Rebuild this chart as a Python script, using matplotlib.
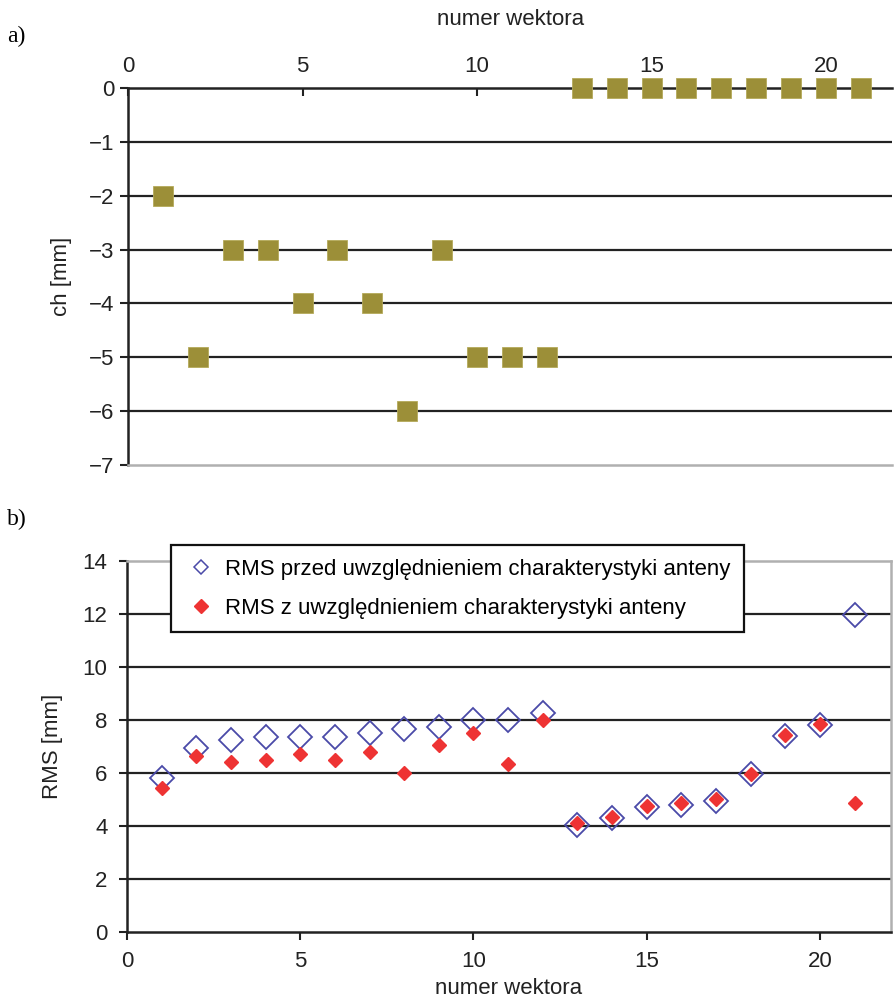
import matplotlib
matplotlib.use("Agg")
import matplotlib.pyplot as plt
from matplotlib.lines import Line2D

plt.rcParams['font.family'] = ['Liberation Sans', 'DejaVu Sans']

# data
wektor = list(range(1, 22))
ch = [-2, -5, -3, -3, -4, -3, -4, -6, -3, -5, -5, -5,
      0, 0, 0, 0, 0, 0, 0, 0, 0]
rms_przed = [5.8, 6.95, 7.25, 7.35, 7.35, 7.35, 7.5, 7.65, 7.75, 8.0, 8.0, 8.25,
             4.05, 4.3, 4.7, 4.8, 4.95, 5.95, 7.4, 7.8, 11.95]
rms_z = [5.45, 6.65, 6.4, 6.5, 6.7, 6.5, 6.8, 6.0, 7.05, 7.5, 6.35, 8.0,
         4.1, 4.35, 4.75, 4.85, 5.0, 5.95, 7.45, 7.85, 4.85]

fig = plt.figure(figsize=(8.96, 10.06), dpi=100)
fs = 16

# ---- a) ----
ax1 = fig.add_axes([0.1429, 0.5378, 0.853, 0.3747])
ax1.set_xlim(0, 21.9)
ax1.set_ylim(-7, 0)
for y in range(-6, 0):
    ax1.axhline(y, color='#222222', lw=1.6, zorder=1)
ax1.plot(wektor, ch, 's', color='#9c8f38', markersize=14.5,
         markeredgecolor='#b5aa5a', markeredgewidth=0.6, zorder=3, clip_on=False)
ax1.xaxis.tick_top()
ax1.xaxis.set_label_position('top')
ax1.set_xticks([0, 5, 10, 15, 20])
ax1.set_yticks(range(-7, 1))
ax1.set_yticklabels(['\u2212%d' % -v if v < 0 else '0' for v in range(-7, 1)])
ax1.tick_params(axis='x', direction='in', length=6, width=1.5, labelsize=fs, pad=8, colors='#222222')
ax1.tick_params(axis='y', direction='out', length=6, width=1.5, labelsize=fs, pad=4, colors='#222222')
ax1.spines['right'].set_visible(False)
ax1.spines['top'].set_linewidth(1.8)
ax1.spines['top'].set_color('#222222')
ax1.spines['left'].set_linewidth(1.8)
ax1.spines['left'].set_color('#222222')
ax1.spines['bottom'].set_color('#b0b0b0')
ax1.spines['bottom'].set_linewidth(1.8)
ax1.set_xlabel('numer wektora', fontsize=fs, labelpad=22, color='#222222')
ax1.set_ylabel('ch [mm]', fontsize=fs, labelpad=12, color='#222222')

# ---- b) ----
ax2 = fig.add_axes([0.1417, 0.0736, 0.8527, 0.3687])
ax2.set_xlim(0, 22.05)
ax2.set_ylim(0, 14)
for y in range(2, 14, 2):
    ax2.axhline(y, color='#222222', lw=1.6, zorder=1)
ax2.plot(wektor, rms_przed, 'D', markerfacecolor='none', markeredgecolor='#4a4aa8',
         markeredgewidth=1.3, markersize=12.5, zorder=3,
         label='RMS przed uwzględnieniem charakterystyki anteny')
ax2.plot(wektor, rms_z, 'D', color='#ee3333', markersize=7.5, zorder=4,
         label='RMS z uwzględnieniem charakterystyki anteny')
ax2.set_xticks([0, 5, 10, 15, 20])
ax2.set_yticks(range(0, 15, 2))
ax2.tick_params(direction='out', length=6, width=1.5, labelsize=fs, pad=8, colors='#222222')
for s in ['left', 'bottom']:
    ax2.spines[s].set_linewidth(1.8)
    ax2.spines[s].set_color('#222222')
for s in ['right', 'top']:
    ax2.spines[s].set_linewidth(1.8)
    ax2.spines[s].set_color('#b0b0b0')
ax2.set_xlabel('numer wektora', fontsize=fs, labelpad=4, color='#222222')
ax2.set_ylabel('RMS [mm]', fontsize=fs, labelpad=14, color='#222222')

handles = [
    Line2D([], [], ls='none', marker='D', markerfacecolor='none', markeredgecolor='#4a4aa8',
           markeredgewidth=1.1, markersize=7),
    Line2D([], [], ls='none', marker='D', color='#ee3333', markersize=7),
]
leg = ax2.legend(handles, ['RMS przed uwzględnieniem charakterystyki anteny',
                           'RMS z uwzględnieniem charakterystyki anteny'],
                 loc='upper left', bbox_to_anchor=(0.043, 1.072), fontsize=fs,
                 frameon=True, fancybox=False, edgecolor='#111111', framealpha=1,
                 handletextpad=0.35, borderpad=0.6, labelspacing=0.8, handlelength=1.5)
leg.get_frame().set_linewidth(1.6)
leg.set_zorder(10)

fig.text(0.008, 0.958, 'a)', fontsize=17, family=['Liberation Serif', 'DejaVu Serif'])
fig.text(0.008, 0.478, 'b)', fontsize=17, family=['Liberation Serif', 'DejaVu Serif'])

fig.savefig('out.png', dpi=100)
